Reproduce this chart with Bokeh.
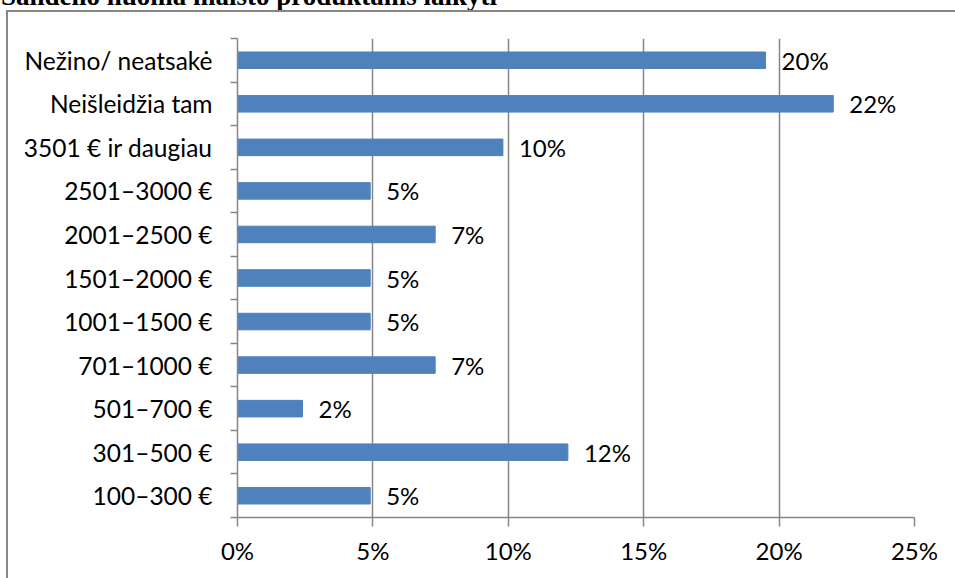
from bokeh.plotting import figure
from bokeh.layouts import column
from bokeh.models import FixedTicker, Range1d, ColumnDataSource, InlineStyleSheet, Div
from bokeh.core.properties import value
from bokeh.embed import file_html
from bokeh.resources import INLINE

title_text = "Sandėlio nuoma maisto produktams laikyti"
categories = ["100–300 €", "301–500 €", "501–700 €", "701–1000 €", "1001–1500 €",
              "1501–2000 €", "2001–2500 €", "2501–3000 €", "3501 € ir daugiau",
              "Neišleidžia tam", "Nežino/ neatsakė"]
shares = [4.9, 12.2, 2.4, 7.3, 4.9, 4.9, 7.3, 4.9, 9.8, 22.0, 19.5]
share_labels = ["5%", "12%", "2%", "7%", "5%", "5%", "7%", "5%", "10%", "22%", "20%"]
x_ticks = [0, 5, 10, 15, 20, 25]
x_tick_labels = ["0%", "5%", "10%", "15%", "20%", "25%"]

FONT = "Lato"
GRAY = "#868686"
BAR = "#4F81BD"

n = len(categories)
positions = [i + 0.5 for i in range(n)]
src = ColumnDataSource(dict(pos=positions, share=shares, lab=share_labels))

# document heading, mostly cut off above the page
head = Div(text=('<div style="position:absolute; left:1px; top:-19px; white-space:nowrap; '
                 "font-family:'Liberation Serif'; font-weight:bold; font-size:27px; "
                 f'line-height:31px; color:black;">{title_text}</div>'),
           width=955, height=11, margin=0, styles={"overflow": "visible"})

p = figure(width=955, height=567, output_backend="svg", toolbar_location=None,
           x_range=Range1d(x_ticks[0], x_ticks[-1]), y_range=Range1d(0, n),
           min_border_left=237, min_border_right=41, min_border_top=27, min_border_bottom=61)
p.margin = 0
p.outline_line_color = None
p.background_fill_color = "white"
p.border_fill_color = "white"

p.hbar(y="pos", left=0, right="share", height=0.38, source=src,
       fill_color=BAR, line_color=BAR)
p.text(x="share", y="pos", text="lab", source=src, x_offset=16,
       text_baseline="middle", text_align="left", text_font=value(FONT),
       text_font_size="24px", text_color="black")

# y axis
ya = p.yaxis[0]
ya.ticker = FixedTicker(ticks=positions, minor_ticks=list(range(n + 1)))
ya.major_label_overrides = {pos: cat for pos, cat in zip(positions, categories)}
ya.major_tick_line_color = None
ya.major_tick_out = 0
ya.major_tick_in = 0
ya.minor_tick_out = 7
ya.minor_tick_in = 0
ya.minor_tick_line_color = GRAY
ya.minor_tick_line_width = 1.5
ya.axis_line_color = GRAY
ya.axis_line_width = 1.5
ya.major_label_standoff = 18
ya.major_label_text_font = FONT
ya.major_label_text_font_size = "24.5px"
ya.major_label_text_color = "black"

# x axis
xa = p.xaxis[0]
xa.ticker = FixedTicker(ticks=x_ticks, minor_ticks=[])
xa.major_label_overrides = {t: l for t, l in zip(x_ticks, x_tick_labels)}
xa.major_tick_out = 9
xa.major_tick_in = 0
xa.major_tick_line_color = GRAY
xa.major_tick_line_width = 1.5
xa.axis_line_color = GRAY
xa.axis_line_width = 1.5
xa.major_label_standoff = 9
xa.major_label_text_font = FONT
xa.major_label_text_font_size = "24px"
xa.major_label_text_color = "black"

p.xgrid.ticker = FixedTicker(ticks=x_ticks)
p.xgrid.grid_line_color = GRAY
p.xgrid.grid_line_width = 1.5
p.ygrid.grid_line_color = None

layout = column(head, p, spacing=0)
# chart's outer border: only its left and top edges fall inside the page
layout.stylesheets = [InlineStyleSheet(css=(
    ":host { position: relative; overflow: hidden; }"
    ":host::after { content: ''; position: absolute; left: 6px; top: 10px; "
    "width: 3000px; height: 3000px; border-left: 2px solid #868686; "
    "border-top: 2px solid #868686; pointer-events: none; }"
))]

open("out.html", "w").write(file_html(layout, INLINE))
